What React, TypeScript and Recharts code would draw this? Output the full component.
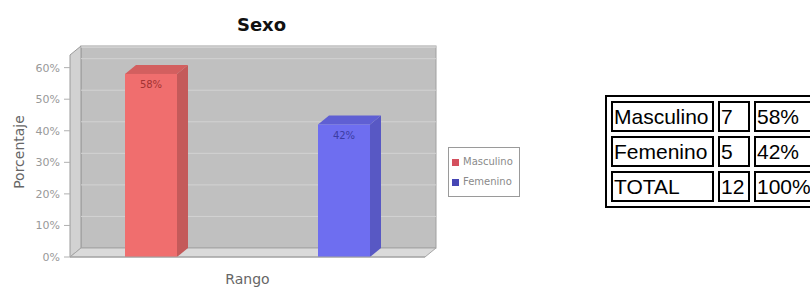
import React from "react";
import {
  BarChart,
  Bar,
  XAxis,
  YAxis,
  CartesianGrid,
  ReferenceArea,
  LabelList,
  Legend,
} from "recharts";

const categories = ["Rango"];
const seriesNames = ["Masculino", "Femenino"];
const masculino = [58];
const femenino = [42];
const yTicks = [0, 10, 20, 30, 40, 50, 60];
const gridValues = [5, 10, 15, 20, 25, 30, 35, 40, 45, 50, 55, 60];

// table next to the chart
const tableLabels = ["Masculino", "Femenino", "TOTAL"];
const tableCounts = ["7", "5", "12"];
const tablePercents = ["58%", "42%", "100%"];

const data = categories.map((name, i) => ({
  name,
  Masculino: masculino[i],
  Femenino: femenino[i],
}));

const COLORS = {
  Masculino: { front: "#f06e6e", side: "#c45a5a", top: "#d35f5f", label: "#a33333" },
  Femenino: { front: "#6e6ef0", side: "#5858c4", top: "#5f5fd3", label: "#3c3ca3" },
};

// depth of the fake 3d
const D = 11;
const DY = 9;

function makeBar3D(c: { front: string; side: string; top: string }) {
  return function Bar3D(props: any) {
    const { x, y, width, height } = props;
    if (width == null || height == null) return null;
    return (
      <g>
        <polygon
          points={`${x + width},${y} ${x + width + D},${y - DY} ${x + width + D},${y + height - DY} ${x + width},${y + height}`}
          fill={c.side}
        />
        <polygon
          points={`${x},${y} ${x + D},${y - DY} ${x + width + D},${y - DY} ${x + width},${y}`}
          fill={c.top}
        />
        <rect x={x} y={y} width={width} height={height} fill={c.front} />
      </g>
    );
  };
}

function Wall(props: any) {
  const { x, y, width, height } = props;
  const L = x;
  const R = x + width;
  const T = y;
  const B = y + height;
  return (
    <g>
      {/* back wall */}
      <rect x={L + D} y={T - DY} width={width} height={height} fill="#c0c0c0" stroke="#a0a0a0" />
      {/* left wall */}
      <polygon
        points={`${L},${T} ${L + D},${T - DY} ${L + D},${B - DY} ${L},${B}`}
        fill="#d2d2d2"
        stroke="#9a9a9a"
      />
      {/* floor */}
      <polygon
        points={`${L},${B} ${L + D},${B - DY} ${R + D},${B - DY} ${R},${B}`}
        fill="#dadada"
        stroke="#a6a6a6"
      />
      <line x1={L + D} y1={T - DY + 1} x2={R + D} y2={T - DY + 1} stroke="#e2e2e2" />
    </g>
  );
}

function GridLine(props: any) {
  const { x1, y1, x2, y2 } = props;
  return <line x1={x1 + D} y1={y1 - DY} x2={x2 + D} y2={y2 - DY} stroke="#d2d2d2" strokeWidth={1} />;
}

function LegendBox() {
  return (
    <div
      style={{
        border: "1px solid #9a9a9a",
        padding: "4px 6px 4px 3px",
        background: "#ffffff",
        fontFamily: "DejaVu Sans",
        fontSize: 10,
        color: "#8a8a8a",
        lineHeight: "20px",
      }}
    >
      {seriesNames.map((s) => (
        <div key={s} style={{ display: "flex", alignItems: "center" }}>
          <span
            style={{
              display: "inline-block",
              width: 7,
              height: 7,
              marginRight: 4,
              background: s === "Masculino" ? "#d4505e" : "#4646b4",
            }}
          />
          {s}
        </div>
      ))}
    </div>
  );
}

const cellStyle: React.CSSProperties = {
  border: "2px solid #000",
  padding: "0 1px",
  height: 27,
  lineHeight: "27px",
  whiteSpace: "nowrap",
};

export default function App() {
  return (
    <div
      style={{
        position: "fixed",
        left: 0,
        top: 0,
        width: 810,
        height: 289,
        overflow: "hidden",
        background: "#fff",
      }}
    >
      <div
        style={{
          position: "absolute",
          left: 0,
          width: 523,
          top: 14,
          textAlign: "center",
          fontFamily: "DejaVu Sans",
          fontWeight: "bold",
          fontSize: 18,
          color: "#111",
        }}
      >
        Sexo
      </div>

      <div style={{ position: "absolute", left: 0, top: 0 }}>
        <BarChart
          width={560}
          height={289}
          data={data}
          margin={{ top: 55, right: 135, left: 0, bottom: 2 }}
          barSize={52}
          barGap={141}
        >
          <ReferenceArea y1={0} y2={64} shape={Wall} ifOverflow="visible" zIndex={-200} />
          <CartesianGrid
            vertical={false}
            horizontal={GridLine}
            horizontalValues={gridValues}
            zIndex={-100}
          />
          <XAxis
            dataKey="name"
            height={30}
            tick={false}
            tickLine={false}
            axisLine={{ stroke: "#a0a0a0" }}
            label={{
              value: "Rango",
              position: "insideBottom",
              offset: 3,
              style: { fill: "#666", fontSize: 14, fontFamily: "DejaVu Sans" },
            }}
          />
          <YAxis
            width={70}
            domain={[0, 64]}
            ticks={yTicks}
            tickFormatter={(v: number) => `${v}%`}
            axisLine={false}
            tickLine={{ stroke: "#b0b0b0" }}
            tickSize={6}
            tickMargin={4}
            tick={{ fill: "#999", fontSize: 11, fontFamily: "DejaVu Sans" }}
            label={{
              value: "Porcentaje",
              angle: -90,
              position: "insideLeft",
              offset: 19,
              dy: -4,
              style: { fill: "#666", fontSize: 14, fontFamily: "DejaVu Sans", textAnchor: "middle" },
            }}
          />
          <Legend
            layout="horizontal"
            verticalAlign="middle"
            align="center"
            content={<LegendBox />}
            wrapperStyle={{ position: "absolute", left: 448, top: 147, width: "auto", height: "auto" }}
          />
          {seriesNames.map((s) => (
            <Bar
              key={s}
              dataKey={s}
              name={s}
              fill={COLORS[s as keyof typeof COLORS].front}
              shape={makeBar3D(COLORS[s as keyof typeof COLORS])}
              isAnimationActive={false}
            >
              <LabelList
                dataKey={s}
                position="insideTop"
                offset={7}
                formatter={(v: any) => `${v}%`}
                style={{ fill: COLORS[s as keyof typeof COLORS].label, fontSize: 10, fontFamily: "DejaVu Sans" }}
              />
            </Bar>
          ))}
        </BarChart>
      </div>

      <table
        style={{
          position: "absolute",
          left: 605,
          top: 95,
          width: 218,
          borderCollapse: "separate",
          borderSpacing: 4,
          border: "2px solid #000",
          fontFamily: "Liberation Sans",
          fontSize: 21,
          color: "#000",
        }}
      >
        <tbody>
          {tableLabels.map((label, i) => (
            <tr key={label}>
              <td style={{ ...cellStyle, width: 97 }}>{label}</td>
              <td style={{ ...cellStyle, width: 26 }}>{tableCounts[i]}</td>
              <td style={{ ...cellStyle }}>{tablePercents[i]}</td>
            </tr>
          ))}
        </tbody>
      </table>
    </div>
  );
}
